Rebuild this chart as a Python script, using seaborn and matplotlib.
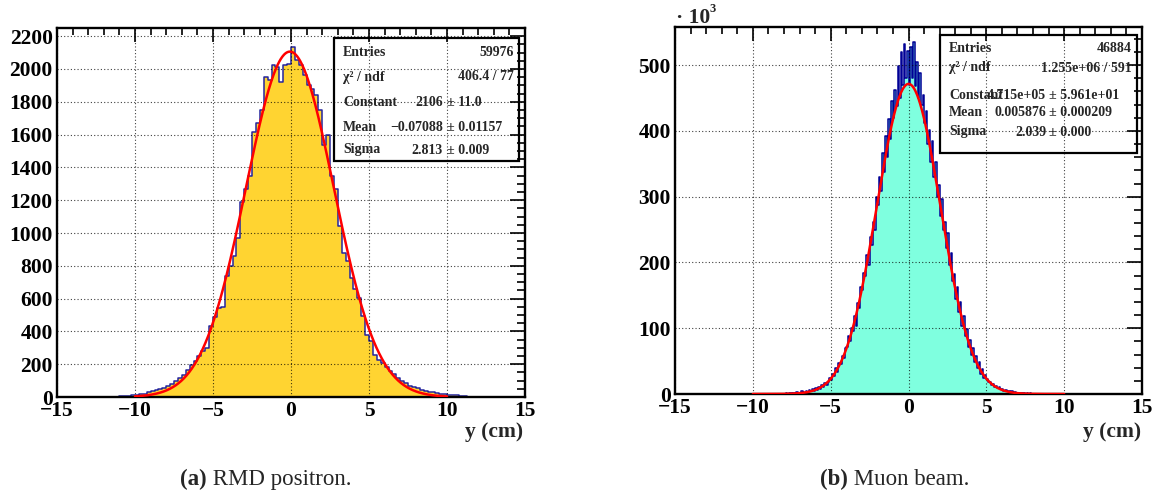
import numpy as np
import pandas as pd
import matplotlib
matplotlib.use("Agg")
import matplotlib.pyplot as plt
from matplotlib.patches import Rectangle
from matplotlib.ticker import MultipleLocator
import seaborn as sns

# ---------------------------------------------------------------- data
# (a) RMD positron: counts per 0.25 cm bin, first bin starts at -11.25 cm
rmd_first_edge = -11.25
rmd_bin_width = 0.25
rmd_counts = [
    3, 5, 8, 7, 11, 13, 16, 20, 29, 35,
    41, 49, 55, 65, 80, 96, 116, 137, 163, 198,
    218, 249, 280, 300, 430, 490, 545, 548, 740, 800,
    860, 970, 1190, 1270, 1350, 1615, 1670, 1750, 1952, 1935,
    2024, 2010, 1922, 2024, 2030, 2136, 2054, 2024, 1962, 1901,
    1880, 1840, 1748, 1534, 1595, 1350, 1269, 1044, 881, 830,
    728, 657, 606, 494, 381, 341, 259, 228, 208, 185,
    160, 140, 118, 100, 84, 70, 60, 52, 45, 38,
    33, 28, 24, 20, 17, 14, 12, 10, 8, 5,
]
rmd_fit_constant = 2106.0
rmd_fit_mean = -0.07088
rmd_fit_sigma = 2.813
rmd_stat_labels = ["Entries", "\u03c7\u00b2 / ndf", "Constant", "Mean", "Sigma"]
rmd_stat_values = ["59976", "406.4 / 77", "2106", "\u22120.07088", "2.813"]
rmd_stat_errors = ["", "", "\u00b1 11.0", "\u00b1 0.01157", "\u00b1 0.009"]

# (b) Muon beam: counts (x10^3) per 0.1 cm bin, first bin starts at -8.0 cm
muon_first_edge = -8.0
muon_bin_width = 0.1
muon_counts = [
    0, 1, 0, 2, 1, 0, 2, 1, 3, 2,
    2, 4, 3, 2, 5, 3, 6, 4, 7, 5,
    9, 6, 11, 8, 13, 10, 16, 14, 19, 24,
    22, 31, 28, 39, 34, 47, 45, 58, 55, 70,
    72, 88, 80, 101, 96, 118, 104, 138, 130, 162,
    158, 184, 180, 212, 196, 238, 226, 262, 250, 300,
    288, 330, 308, 366, 338, 392, 360, 418, 388, 446,
    420, 462, 438, 498, 450, 520, 470, 532, 480, 522,
    470, 528, 480, 535, 468, 505, 450, 488, 440, 455,
    412, 430, 380, 402, 352, 385, 330, 352, 300, 318,
    270, 296, 250, 262, 222, 245, 196, 214, 172, 182,
    145, 162, 124, 140, 104, 118, 88, 99, 72, 82,
    60, 70, 48, 58, 40, 48, 30, 38, 24, 29,
    23, 18, 19, 14, 15, 11, 12, 9, 10, 7,
    8, 5, 6, 4, 5, 3, 4, 2, 3, 2,
    2, 1, 2, 1, 1, 0, 1, 0, 1, 0,
]
muon_fit_constant = 471.5  # 4.715e+05 in units of 10^3
muon_fit_mean = 0.005876
muon_fit_sigma = 2.039
muon_stat_labels = ["Entries", "\u03c7\u00b2 / ndf", "Constant", "Mean", "Sigma"]
muon_stat_values = ["46884", "1.255e+06 / 591", "4.715e+05", "0.005876", "2.039"]
muon_stat_errors = ["", "", "\u00b1 5.961e+01", "\u00b1 0.000209", "\u00b1 0.000"]

x_ticks = [-15, -10, -5, 0, 5, 10, 15]
x_title = "y (cm)"
captions = [("(a)", " RMD positron."), ("(b)", " Muon beam.")]

# ---------------------------------------------------------------- style
sns.set_style("white")
SERIF = ["Liberation Serif", "DejaVu Serif"]
plt.rcParams["font.family"] = SERIF
plt.rcParams["axes.unicode_minus"] = True

W, H = 1157, 498
fig = plt.figure(figsize=(W / 100, H / 100), dpi=100)


def fx(px):
    return px / W


def fy(py):
    return 1 - py / H


def add_axes(left, top, right, bottom):
    return fig.add_axes([fx(left), fy(bottom), fx(right) - fx(left), fy(top) - fy(bottom)])


def hist_frame(first_edge, width, counts):
    edges = first_edge + width * np.arange(len(counts) + 1)
    centers = 0.5 * (edges[:-1] + edges[1:])
    return [float(e) for e in edges], pd.DataFrame({"y": centers, "n": counts})


def draw_panel(ax, first_edge, width, counts, fill, edge, fit, ymax, ymajor, yminor):
    edges, df = hist_frame(first_edge, width, counts)
    sns.histplot(data=df, x="y", weights="n", bins=edges, element="step",
                 fill=True, color=fill, alpha=1.0, edgecolor=edge,
                 linewidth=1.1, ax=ax)
    const, mean, sigma = fit
    xf = np.linspace(-10, 10, 801)
    fit_df = pd.DataFrame({"y": xf,
                           "f": const * np.exp(-0.5 * ((xf - mean) / sigma) ** 2)})
    sns.lineplot(data=fit_df, x="y", y="f", color="#ff0000", linewidth=1.8,
                 ax=ax, zorder=3)

    ax.set_xlim(-15, 15)
    ax.set_ylim(0, ymax)
    ax.set_xticks(x_ticks)
    ax.xaxis.set_minor_locator(MultipleLocator(1))
    ax.yaxis.set_major_locator(MultipleLocator(ymajor))
    ax.yaxis.set_minor_locator(MultipleLocator(yminor))
    ax.set_xlabel("")
    ax.set_ylabel("")
    ax.set_axisbelow(False)
    ax.grid(True, which="major", color="black", linestyle=(0, (1, 2)),
            linewidth=0.8, alpha=0.75)
    ax.tick_params(which="both", direction="in", top=True, right=True,
                   width=1.2, colors="black", labelsize=15.5, pad=3)
    ax.tick_params(axis="x", which="major", length=10)
    ax.tick_params(axis="x", which="minor", length=5)
    ax.tick_params(axis="y", which="major", length=11)
    ax.tick_params(axis="y", which="minor", length=5.5)
    for lab in ax.get_xticklabels() + ax.get_yticklabels():
        lab.set_fontweight("bold")
        lab.set_family(SERIF)
    for sp in ax.spines.values():
        sp.set_linewidth(1.7)
        sp.set_color("black")


def stats_box(left, top, right, bottom, rows_y, labels, values, errors,
              value_right, error_left):
    fig.patches.append(Rectangle((fx(left), fy(bottom)), fx(right) - fx(left),
                                 fy(top) - fy(bottom), transform=fig.transFigure,
                                 fill=False, edgecolor="black", linewidth=1.6,
                                 zorder=10))
    kw = dict(fontsize=10, fontweight="bold", family=SERIF, va="center", zorder=11)
    for yy, lab, val, err in zip(rows_y, labels, values, errors):
        fig.text(fx(left + 9), fy(yy), lab, ha="left", **kw)
        if err:
            fig.text(fx(value_right), fy(yy), val, ha="right", **kw)
            fig.text(fx(error_left), fy(yy), err, ha="left", **kw)
        else:
            fig.text(fx(right - 5), fy(yy), val, ha="right", **kw)


# ---------------------------------------------------------------- panel (a)
ax_a = add_axes(57, 28, 525, 397)
draw_panel(ax_a, rmd_first_edge, rmd_bin_width, rmd_counts,
           fill="#ffd431", edge="#24249e",
           fit=(rmd_fit_constant, rmd_fit_mean, rmd_fit_sigma),
           ymax=2250, ymajor=200, yminor=50)
stats_box(334, 38, 519, 161, [53, 77, 102, 127, 150],
          rmd_stat_labels, rmd_stat_values, rmd_stat_errors,
          value_right=443, error_left=447)

# ---------------------------------------------------------------- panel (b)
ax_b = add_axes(675, 27, 1142, 394)
draw_panel(ax_b, muon_first_edge, muon_bin_width, muon_counts,
           fill="#7fffdf", edge="#000096",
           fit=(muon_fit_constant, muon_fit_mean, muon_fit_sigma),
           ymax=558, ymajor=100, yminor=20)
stats_box(940, 35, 1137, 153, [48, 68, 95, 113, 132],
          muon_stat_labels, muon_stat_values, muon_stat_errors,
          value_right=1046, error_left=1049)

# y-axis exponent of panel (b)
fig.text(fx(676), fy(18), "\u00b7 10", fontsize=15.5, fontweight="bold",
         family=SERIF, ha="left", va="center")
fig.text(fx(710), fy(9), "3", fontsize=9, fontweight="bold",
         family=SERIF, ha="left", va="center")

# axis titles
for xr in (523, 1141):
    fig.text(fx(xr), fy(432), x_title, fontsize=15.5, fontweight="bold",
             family=SERIF, ha="right", va="center")

# captions: bold tag followed by plain text
renderer = fig.canvas.get_renderer()
for (tag, text), xl in zip(captions, (180, 820)):
    t = fig.text(fx(xl), fy(479), tag, fontsize=16.5, fontweight="bold",
                 family=SERIF, ha="left", va="center")
    x1 = t.get_window_extent(renderer).x1
    fig.text(x1 / W, fy(479), text, fontsize=16.5, family=SERIF,
             ha="left", va="center")

fig.savefig("out.png", dpi=100)
